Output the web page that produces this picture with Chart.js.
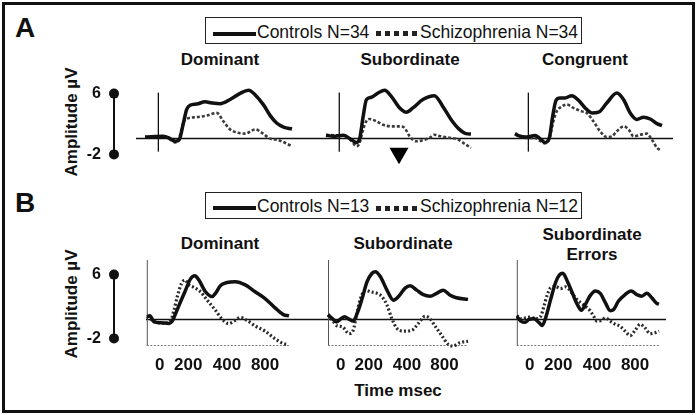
<!DOCTYPE html>
<html>
<head>
<meta charset="utf-8">
<script src="https://cdn.jsdelivr.net/npm/chart.js@4.4.1/dist/chart.umd.min.js"></script>
<style>
  html, body { margin: 0; padding: 0; background: #fff; }
  #fig { position: relative; width: 700px; height: 415px; overflow: hidden;
         font-family: Arial, "Liberation Sans", Helvetica, sans-serif; color: #111; }
  .frame { position: absolute; left: 2px; top: 2px; width: 693px; height: 411px;
           box-sizing: border-box; border: 3px solid #111; }
  .t { position: absolute; line-height: 1; white-space: nowrap; transform: translate(-50%, -50%); }
  .tl { position: absolute; line-height: 1; white-space: nowrap; transform: translate(0, -50%); }
  .letter { font-size: 28px; font-weight: bold; }
  .title { font-size: 17px; font-weight: bold; }
  .ylab { font-size: 17px; font-weight: bold; transform: translate(-50%, -50%) rotate(-90deg); }
  .legend { position: absolute; left: 205px; width: 377px; height: 27px; box-sizing: border-box;
            border: 1.5px solid #222; }
  .legtxt { font-size: 17.5px; }
  .solid { position: absolute; left: 213px; width: 43px; height: 4px; background: #111; }
  .sq { position: absolute; width: 5px; height: 5px; background: #222; }
  canvas { position: absolute; }
</style>
</head>
<body>
<div id="fig">
  <div class="frame"></div>

  <div class="t letter" style="left:25px;top:28px">A</div>
  <div class="t letter" style="left:25px;top:203px">B</div>

  <!-- legenda A -->
  <div class="legend" style="top:17px"></div>
  <div class="solid" style="top:32px"></div>
  <div class="tl legtxt" style="left:257px;top:33px">Controls N=34</div>
  <div id="dotsA"></div>
  <div class="tl legtxt" style="left:420px;top:33px">Schizophrenia N=34</div>

  <!-- legenda B -->
  <div class="legend" style="top:192px"></div>
  <div class="solid" style="top:206px"></div>
  <div class="tl legtxt" style="left:257px;top:207px">Controls N=13</div>
  <div id="dotsB"></div>
  <div class="tl legtxt" style="left:420px;top:207px">Schizophrenia N=12</div>

  <div class="t title" style="left:220px;top:59px">Dominant</div>
  <div class="t title" style="left:410px;top:59px">Subordinate</div>
  <div class="t title" style="left:585px;top:59px">Congruent</div>

  <div class="t title" style="left:220px;top:243px">Dominant</div>
  <div class="t title" style="left:403px;top:243px">Subordinate</div>
  <div class="t title" style="left:592px;top:234px">Subordinate</div>
  <div class="t title" style="left:592px;top:254px">Errors</div>

  <div class="t ylab" style="left:71px;top:122px">Amplitude µV</div>
  <div class="t ylab" style="left:71px;top:304px">Amplitude µV</div>
  <div class="t title" style="left:398px;top:390px">Time msec</div>

  <canvas id="barA" width="44" height="86" style="left:80px;top:81px"></canvas>
  <canvas id="barB" width="44" height="89" style="left:80px;top:262px"></canvas>

  <canvas id="domA" width="182" height="81" style="left:136px;top:88px"></canvas>
  <canvas id="subA" width="188" height="81" style="left:318px;top:88px"></canvas>
  <canvas id="conA" width="167" height="81" style="left:506px;top:88px"></canvas>

  <canvas id="domB" width="181" height="116" style="left:146px;top:260px"></canvas>
  <canvas id="subB" width="189" height="116" style="left:327px;top:260px"></canvas>
  <canvas id="errB" width="150" height="116" style="left:516px;top:260px"></canvas>
</div>

<script>
// Dati: [msec, µV]
const timeTickLabels = ['0', '200', '400', '800'];
const timeTickAt = [0, 220, 520, 815];   // dove la figura stampa le etichette (msec)
const scaleBarValues = [6, -2];
const arrowMark = [[450, -1.9]];   // freccia sotto "Subordinate" (A)

// A: Controls N=34 / Schizophrenia N=34
const domA_ctrl = [[-100,0.2],[37,0.3],[87,0],[125,-0.35],[157,-0.1],[187,2.0],[212,3.8],[237,4.35],[287,4.5],[350,4.8],[400,4.65],[462,4.55],[537,5.1],[612,5.9],[675,6.3],[725,5.7],[787,4.4],[837,3.0],[887,2.0],[937,1.5],[1000,1.25]];
const domA_scz = [[-100,0.2],[37,0.3],[87,-0.1],[125,-0.5],[150,-0.3],[170,1.0],[190,2.2],[215,2.6],[287,2.8],[362,3.0],[437,3.35],[487,2.25],[537,1.2],[587,0.8],[650,0.65],[725,1.2],[775,0.75],[837,0],[900,-0.2],[1000,-1.0]];
const subA_ctrl = [[-100,0.45],[-45,0.3],[30,0.45],[92,-0.15],[130,-0.5],[155,0.1],[180,2.9],[205,5.1],[242,5.4],[292,5.95],[342,6.3],[392,5.5],[455,4.0],[505,3.45],[555,4.0],[630,5.1],[717,5.6],[780,4.2],[842,2.5],[905,1.2],[955,0.65],[992,0.6]];
const subA_scz = [[-100,0.45],[30,0.4],[92,-0.3],[130,-1.0],[150,-0.7],[180,1.2],[205,2.3],[230,2.55],[280,2.25],[330,1.8],[392,1.6],[455,1.6],[492,1.4],[530,0.3],[580,-0.35],[630,-0.2],[680,0.1],[717,0.5],[767,0.3],[830,0.1],[892,-0.1],[955,-0.8],[992,-1.2]];
const conA_ctrl = [[-100,0.65],[-75,0.4],[-12,0.2],[50,0.4],[87,0],[125,-0.5],[157,0.1],[182,2.9],[207,5.0],[237,5.3],[275,5.3],[325,5.6],[375,5.0],[425,4.0],[475,3.35],[525,3.45],[587,4.65],[662,5.95],[712,5.1],[762,3.35],[812,2.5],[862,2.8],[912,2.55],[962,1.95],[1000,1.7]];
const conA_scz = [[-100,0.5],[-12,0.1],[50,0.1],[87,-0.3],[125,-0.6],[157,0],[187,2.25],[212,3.55],[250,4.2],[287,4.45],[337,4.0],[400,3.55],[437,3.35],[487,2.25],[537,0.95],[587,0.2],[625,0.3],[662,0.95],[712,1.6],[750,1.2],[787,0.3],[837,0.5],[887,0.65],[925,-0.15],[962,-1.2],[987,-1.5]];

// B: Controls N=13 / Schizophrenia N=12
const domB_ctrl = [[-100,0.35],[-77,0.45],[-44,-0.3],[8,-0.4],[72,-0.5],[97,-0.2],[123,0.75],[161,2.2],[200,3.65],[238,5.05],[272,5.45],[303,4.9],[354,3.45],[405,2.85],[431,3.25],[469,4.2],[520,4.6],[585,4.7],[662,4.3],[738,3.45],[815,2.6],[892,1.45],[956,0.6],[1000,0.45]];
const domB_scz = [[-100,0.35],[-56,-0.1],[-18,-0.4],[46,-0.45],[85,-0.1],[110,1.15],[136,2.85],[169,4.5],[195,4.9],[226,4.3],[264,4.0],[315,3.45],[367,2.4],[431,1.15],[482,0.05],[533,-0.5],[585,-0.1],[623,0.25],[674,-0.1],[738,-0.8],[815,-1.45],[892,-2.4],[956,-3.0],[990,-3.1]];
const subB_ctrl = [[-100,0.6],[-66,0.1],[-32,-0.3],[-1,0.05],[30,0.35],[64,0.05],[98,-0.2],[129,0.75],[168,2.6],[207,4.7],[246,5.75],[272,5.95],[311,5.35],[363,3.65],[415,2.4],[454,2.85],[506,3.9],[545,4.2],[597,3.65],[649,3.1],[701,2.9],[753,3.25],[805,3.65],[857,3.05],[909,2.7],[1000,2.5]];
const subB_scz = [[-100,0.55],[-66,-0.1],[-27,-0.8],[12,-0.9],[64,-1.75],[98,-1.35],[124,0.55],[155,2.6],[194,3.65],[233,3.45],[285,3.25],[324,2.85],[363,1.8],[402,0.1],[441,-1.1],[493,-1.45],[558,-1.35],[610,-0.5],[662,0.4],[701,0.1],[740,-0.8],[792,-1.95],[844,-3.1],[883,-3.3],[935,-2.9],[1000,-2.7]];
const errB_ctrl = [[-100,0.4],[-69,-0.2],[-36,-0.35],[-5,0],[33,0.1],[72,-0.4],[97,-0.75],[123,0.2],[162,2.5],[200,4.6],[233,5.6],[256,5.75],[290,4.8],[328,3.35],[367,1.9],[400,1.15],[431,1.9],[469,3.0],[508,3.55],[546,3.25],[585,2.1],[623,1.1],[649,1.25],[687,2.3],[738,3.1],[785,3.55],[828,3.1],[867,2.9],[905,3.25],[944,2.7],[982,2.0],[1000,1.9]];
const errB_scz = [[-100,0.5],[-69,0.1],[-31,0.2],[8,0.3],[46,0.1],[85,0.4],[110,1.65],[136,3.1],[162,3.95],[200,4.1],[238,3.85],[277,4.05],[315,3.55],[354,2.7],[392,2.1],[431,1.65],[469,1.05],[495,0.4],[520,-0.2],[559,-0.1],[585,0.2],[623,-0.2],[662,-0.6],[700,-0.85],[738,-1.45],[777,-2.0],[815,-1.35],[854,-0.6],[892,-1.05],[931,-1.75],[969,-1.65],[1000,-1.45]];

const FONT = 'Arial, "Liberation Sans", Helvetica, sans-serif';

// linee di riferimento: linea dello zero, inizio stimolo, bordi del pannello B
const refLines = {
    id: 'refLines',
    beforeDatasetsDraw(chart, args, o) {
        const { ctx, chartArea, scales: { x, y } } = chart;
        ctx.save();
        ctx.strokeStyle = '#111';
        ctx.lineWidth = 1.5;
        const y0 = y.getPixelForValue(0);
        ctx.beginPath();
        ctx.moveTo(0, y0);
        ctx.lineTo(chart.width, y0);
        ctx.stroke();
        if (o.onset) {
            const xp = x.getPixelForValue(0);
            ctx.lineWidth = 1.3;
            ctx.beginPath();
            ctx.moveTo(xp, y.getPixelForValue(6));
            ctx.lineTo(xp, y.getPixelForValue(-1.7));
            ctx.stroke();
        }
        if (o.leftEdge) {
            ctx.strokeStyle = '#555';
            ctx.lineWidth = 1;
            ctx.beginPath();
            ctx.moveTo(chartArea.left + 0.5, chartArea.top);
            ctx.lineTo(chartArea.left + 0.5, chartArea.bottom);
            ctx.stroke();
            // fondo tratteggiato grigio
            ctx.strokeStyle = '#777';
            ctx.setLineDash([2, 1.5]);
            ctx.beginPath();
            ctx.moveTo(chartArea.left, chartArea.bottom - 0.5);
            ctx.lineTo(chartArea.right, chartArea.bottom - 0.5);
            ctx.stroke();
        }
        ctx.restore();
    }
};

function panel(id, ctrl, scz, row, pad, extra) {
    const isA = row === 'A';
    const datasets = [{
        data: ctrl,
        borderColor: '#111',
        borderWidth: 3.5,
        pointRadius: 0,
        cubicInterpolationMode: 'monotone',
        clip: false
    }, {
        data: scz,
        borderColor: isA ? '#3a3a3a' : '#2a2a2a',
        borderWidth: isA ? 2.6 : 3.2,
        borderDash: isA ? [3, 2] : [2, 2.2],
        pointRadius: 0,
        cubicInterpolationMode: 'monotone',
        clip: false
    }];
    if (extra) datasets.push(extra);

    const xAxis = {
        type: 'linear',
        min: -100,
        max: 1000,
        display: !isA
    };
    if (!isA) {
        Object.assign(xAxis, {
            grid: { display: false, drawTicks: false },
            border: { display: false },
            afterBuildTicks: axis => { axis.ticks = timeTickAt.map(v => ({ value: v })); },
            afterFit: axis => { axis.height = 30; },
            ticks: {
                autoSkip: false,
                maxRotation: 0,
                padding: 9,
                color: '#111',
                font: { family: FONT, size: 17, weight: 'bold' },
                callback: (v, i) => timeTickLabels[i]
            }
        });
    }

    new Chart(document.getElementById(id), {
        type: 'line',
        data: { datasets: datasets },
        options: {
            responsive: false,
            animation: false,
            events: [],
            layout: { padding: pad, autoPadding: false },
            plugins: {
                legend: { display: false },
                tooltip: { enabled: false },
                refLines: { onset: isA, leftEdge: !isA }
            },
            scales: {
                x: xAxis,
                y: {
                    type: 'linear',
                    min: isA ? -2.4 : -3.3,
                    max: isA ? 6.6 : 7.4,
                    display: false
                }
            }
        },
        plugins: [refLines]
    });
}

function scaleBar(id) {
    new Chart(document.getElementById(id), {
        type: 'line',
        data: {
            datasets: [{
                data: scaleBarValues.map(v => [0, v]),
                borderColor: '#111',
                borderWidth: 2,
                pointRadius: 5,
                pointBackgroundColor: '#111',
                pointBorderWidth: 0,
                clip: false
            }]
        },
        options: {
            responsive: false,
            animation: false,
            events: [],
            layout: { padding: { top: 12, bottom: 12, left: 0, right: 0 }, autoPadding: false },
            plugins: { legend: { display: false }, tooltip: { enabled: false } },
            scales: {
                x: { type: 'linear', min: -1, max: 1, display: false },
                y: {
                    type: 'linear',
                    min: -2,
                    max: 6,
                    position: 'left',
                    grid: { display: false, drawTicks: false },
                    border: { display: false },
                    afterBuildTicks: axis => { axis.ticks = scaleBarValues.map(v => ({ value: v })); },
                    afterFit: axis => { axis.width = 24; },
                    ticks: {
                        padding: 3,
                        color: '#111',
                        font: { family: FONT, size: 16, weight: 'bold' }
                    }
                }
            }
        }
    });
}

// quadratini della legenda tratteggiata
['dotsA', 'dotsB'].forEach((id, r) => {
    const holder = document.getElementById(id);
    for (let i = 0; i < 5; i++) {
        const s = document.createElement('div');
        s.className = 'sq';
        s.style.left = (376 + i * 9) + 'px';
        s.style.top = (r === 0 ? 31 : 206) + 'px';
        holder.appendChild(s);
    }
});

scaleBar('barA');
scaleBar('barB');

const arrow = {
    type: 'scatter',
    data: arrowMark,
    pointStyle: 'triangle',
    rotation: 180,
    pointRadius: 11,
    pointBackgroundColor: '#000',
    pointBorderWidth: 0,
    showLine: false,
    clip: false
};

panel('domA', domA_ctrl, domA_scz, 'A', { left: 9, right: 26, top: 0, bottom: 12 });
panel('subA', subA_ctrl, subA_scz, 'A', { left: 8, right: 34, top: 0, bottom: 12 }, arrow);
panel('conA', conA_ctrl, conA_scz, 'A', { left: 9, right: 11, top: 0, bottom: 12 });

panel('domB', domB_ctrl, domB_scz, 'B', { left: 0, right: 38, top: 0, bottom: 0 });
panel('subB', subB_ctrl, subB_scz, 'B', { left: 0, right: 48, top: 0, bottom: 0 });
panel('errB', errB_ctrl, errB_scz, 'B', { left: 0, right: 7, top: 0, bottom: 0 });
</script>
</body>
</html>
